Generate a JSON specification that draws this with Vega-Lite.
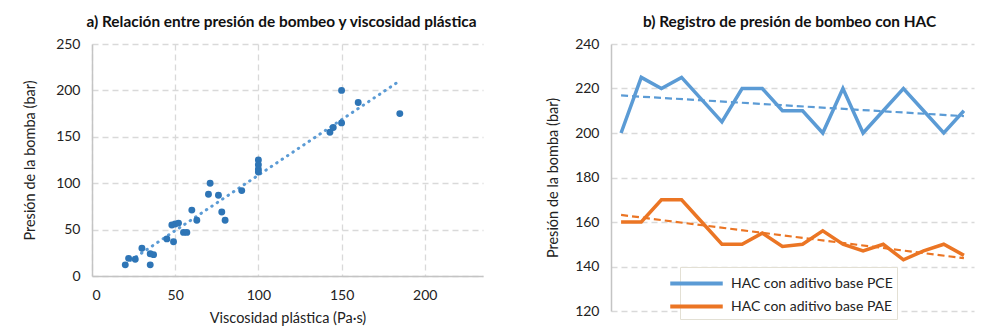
{
  "$schema": "https://vega.github.io/schema/vega-lite/v6.json",
  "padding": {"left": 22, "top": 14, "right": 8, "bottom": 2},
  "background": "white",
  "config": {
    "font": "Lato",
    "view": {"stroke": null},
    "axis": {"labelFont": "Lato", "titleFont": "Lato", "labelFontSize": 14, "titleFontSize": 14.5, "labelColor": "#222", "titleColor": "#222", "titleFontWeight": "normal", "gridColor": "#d9d9d9", "gridDash": [6, 4], "gridWidth": 1.3, "ticks": false, "domainColor": "#c4c4c4", "domainWidth": 1.5},
    "title": {"font": "Lato", "fontSize": 15.4, "fontWeight": "bold", "color": "#111", "anchor": "middle", "offset": 7}
  },
  "spacing": 62,
  "hconcat": [
    {
      "title": {"text": "a) Relación entre presión de bombeo y viscosidad plástica", "dx": -6},
      "width": 391,
      "height": 232,
      "data": {"values": [
        {"vp": 20, "p": 12}, {"vp": 22, "p": 19}, {"vp": 26, "p": 18}, {"vp": 30, "p": 30},
        {"vp": 35, "p": 12}, {"vp": 35, "p": 24}, {"vp": 37, "p": 23}, {"vp": 45, "p": 40},
        {"vp": 49, "p": 37}, {"vp": 48, "p": 55}, {"vp": 50, "p": 56}, {"vp": 52, "p": 57},
        {"vp": 55, "p": 47}, {"vp": 57, "p": 47}, {"vp": 60, "p": 71}, {"vp": 63, "p": 60},
        {"vp": 70, "p": 88}, {"vp": 71, "p": 100}, {"vp": 76, "p": 87}, {"vp": 78, "p": 69},
        {"vp": 80, "p": 60}, {"vp": 90, "p": 92}, {"vp": 100, "p": 125}, {"vp": 100, "p": 120},
        {"vp": 100, "p": 115}, {"vp": 100, "p": 112}, {"vp": 143, "p": 155}, {"vp": 145, "p": 160},
        {"vp": 150, "p": 165}, {"vp": 150, "p": 200}, {"vp": 160, "p": 187}, {"vp": 185, "p": 175}
      ]},
      "encoding": {
        "x": {"field": "vp", "type": "quantitative", "scale": {"domain": [0, 235], "nice": false},
              "axis": {"values": [0, 50, 100, 150, 200], "title": "Viscosidad plástica (Pa·s)", "labelPadding": 12, "titlePadding": 9}},
        "y": {"field": "p", "type": "quantitative", "scale": {"domain": [0, 250], "nice": false},
              "axis": {"values": [0, 50, 100, 150, 200, 250], "title": "Presión de la bomba (bar)", "labelPadding": 12, "titlePadding": 18}}
      },
      "layer": [
        {
          "transform": [{"regression": "p", "on": "vp"}],
          "mark": {"type": "line", "color": "#5B9BD5", "strokeWidth": 3, "strokeDash": [0.5, 6], "strokeCap": "round"}
        },
        {
          "mark": {"type": "circle", "color": "#2E75B6", "opacity": 1, "size": 48}
        }
      ]
    },
    {
      "title": {"text": "b) Registro de presión de bombeo con HAC", "dx": -3},
      "width": 363,
      "height": 267,
      "data": {"values": [
        {"i": 1, "s": "HAC con aditivo base PCE", "p": 200},
        {"i": 2, "s": "HAC con aditivo base PCE", "p": 225},
        {"i": 3, "s": "HAC con aditivo base PCE", "p": 220},
        {"i": 4, "s": "HAC con aditivo base PCE", "p": 225},
        {"i": 5, "s": "HAC con aditivo base PCE", "p": 215},
        {"i": 6, "s": "HAC con aditivo base PCE", "p": 205},
        {"i": 7, "s": "HAC con aditivo base PCE", "p": 220},
        {"i": 8, "s": "HAC con aditivo base PCE", "p": 220},
        {"i": 9, "s": "HAC con aditivo base PCE", "p": 210},
        {"i": 10, "s": "HAC con aditivo base PCE", "p": 210},
        {"i": 11, "s": "HAC con aditivo base PCE", "p": 200},
        {"i": 12, "s": "HAC con aditivo base PCE", "p": 220},
        {"i": 13, "s": "HAC con aditivo base PCE", "p": 200},
        {"i": 14, "s": "HAC con aditivo base PCE", "p": 210},
        {"i": 15, "s": "HAC con aditivo base PCE", "p": 220},
        {"i": 16, "s": "HAC con aditivo base PCE", "p": 210},
        {"i": 17, "s": "HAC con aditivo base PCE", "p": 200},
        {"i": 18, "s": "HAC con aditivo base PCE", "p": 210},
        {"i": 1, "s": "HAC con aditivo base PAE", "p": 160},
        {"i": 2, "s": "HAC con aditivo base PAE", "p": 160},
        {"i": 3, "s": "HAC con aditivo base PAE", "p": 170},
        {"i": 4, "s": "HAC con aditivo base PAE", "p": 170},
        {"i": 5, "s": "HAC con aditivo base PAE", "p": 160},
        {"i": 6, "s": "HAC con aditivo base PAE", "p": 150},
        {"i": 7, "s": "HAC con aditivo base PAE", "p": 150},
        {"i": 8, "s": "HAC con aditivo base PAE", "p": 155},
        {"i": 9, "s": "HAC con aditivo base PAE", "p": 149},
        {"i": 10, "s": "HAC con aditivo base PAE", "p": 150},
        {"i": 11, "s": "HAC con aditivo base PAE", "p": 156},
        {"i": 12, "s": "HAC con aditivo base PAE", "p": 150},
        {"i": 13, "s": "HAC con aditivo base PAE", "p": 147},
        {"i": 14, "s": "HAC con aditivo base PAE", "p": 150},
        {"i": 15, "s": "HAC con aditivo base PAE", "p": 143},
        {"i": 16, "s": "HAC con aditivo base PAE", "p": 147},
        {"i": 17, "s": "HAC con aditivo base PAE", "p": 150},
        {"i": 18, "s": "HAC con aditivo base PAE", "p": 145}
      ]},
      "encoding": {
        "x": {"field": "i", "type": "quantitative", "scale": {"domain": [0.5, 18.5], "nice": false, "zero": false}, "axis": null},
        "y": {"field": "p", "type": "quantitative", "scale": {"domain": [120, 240], "nice": false, "zero": false},
              "axis": {"values": [120, 140, 160, 180, 200, 220, 240], "title": "Presión de la bomba (bar)", "labelPadding": 12, "titlePadding": 14}}
      },
      "layer": [
        {
          "transform": [{"filter": "datum.s === 'HAC con aditivo base PCE'"}, {"regression": "p", "on": "i"}],
          "mark": {"type": "line", "strokeWidth": 2.2, "strokeDash": [7, 4], "color": "#5B9BD5"}
        },
        {
          "transform": [{"filter": "datum.s === 'HAC con aditivo base PAE'"}, {"regression": "p", "on": "i"}],
          "mark": {"type": "line", "strokeWidth": 2.2, "strokeDash": [7, 4], "color": "#EB7524"}
        },
        {
          "mark": {"type": "line", "strokeWidth": 3.5, "strokeJoin": "miter"},
          "encoding": {
            "color": {"field": "s", "type": "nominal",
                      "scale": {"domain": ["HAC con aditivo base PCE", "HAC con aditivo base PAE"], "range": ["#5B9BD5", "#EB7524"]},
                      "legend": {"title": null, "orient": "none", "legendX": 588, "legendY": 223, "symbolType": "M-2.5,0H2.5", "symbolSize": 441, "symbolStrokeWidth": 4, "labelFontSize": 14, "labelFont": "Lato", "labelColor": "#222", "labelLimit": 400, "fillColor": "white", "strokeColor": "#e3e0d4", "padding": 4, "rowPadding": 2, "labelOffset": 22}}
          }
        }
      ]
    }
  ]
}
